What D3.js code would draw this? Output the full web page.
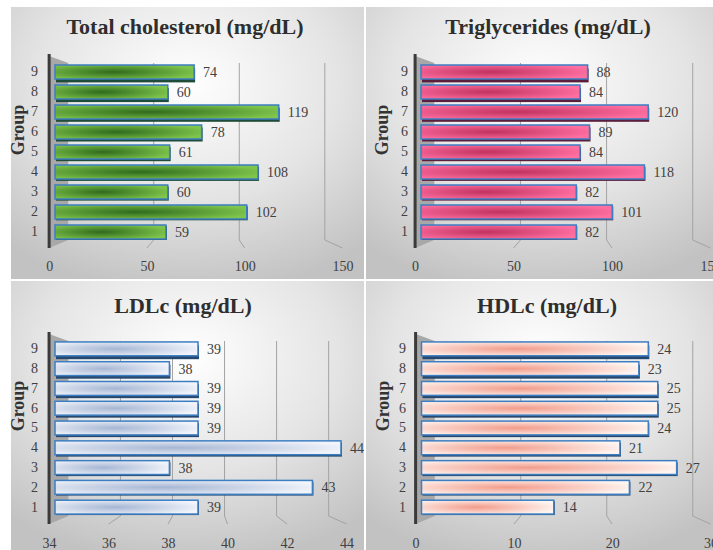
<!DOCTYPE html>
<html>
<head>
<meta charset="utf-8">
<script src="https://cdn.jsdelivr.net/npm/d3@7"></script>
<style>
  body { margin: 0; background: #fff; }
  svg { display: block; }
</style>
</head>
<body>
<div id="chart"></div>
<script>
// values
const groups = ["1", "2", "3", "4", "5", "6", "7", "8", "9"];
const totalChol = [59, 102, 60, 108, 61, 78, 119, 60, 74];
const triglycerides = [82, 101, 82, 118, 84, 89, 120, 84, 88];
const ldlc = [39, 43, 38, 44, 39, 39, 39, 38, 39];
const hdlc = [14, 22, 27, 21, 24, 25, 25, 23, 24];

const cholTicks = [0, 50, 100, 150];
const tgTicks = [0, 50, 100, 150];
const ldlTicks = [34, 36, 38, 40, 42, 44];
const hdlTicks = [0, 10, 20, 30];

const titles = ["Total cholesterol (mg/dL)", "Triglycerides (mg/dL)", "LDLc (mg/dL)", "HDLc (mg/dL)"];

const W = 713, H = 550;

// colours for each panel's bars
const themes = [
  { id: "green", center: "#2f6a1c", edge: "#7fc54c", under: "#1f4d3a" },
  { id: "pink", center: "#c2325f", edge: "#ff70a2", under: "#5a1f3c" },
  { id: "blue", center: "#a6b6d3", edge: "#f1f4fb", under: "#27486e" },
  { id: "salmon", center: "#f29c8b", edge: "#fff5f1", under: "#27486e" }
];

// layout of the four panels
const layout = [
  { px: 11, py: 7, pw: 353, ph: 272, x0: 55, x1: 337, top: 54, bottom: 248, bandTop: 59, bandBottom: 245, catX: 38, groupX: 18, groupY: 130, titleX: 185, titleY: 34, tickY: 272 },
  { px: 366, py: 7, pw: 347, ph: 272, x0: 421, x1: 705, top: 54, bottom: 248, bandTop: 59, bandBottom: 245, catX: 408, groupX: 382, groupY: 130, titleX: 548, titleY: 34, tickY: 272 },
  { px: 11, py: 281, pw: 353, ph: 269, x0: 55, x1: 341, top: 332, bottom: 524, bandTop: 336, bandBottom: 520, catX: 38, groupX: 18, groupY: 406, titleX: 183, titleY: 313, tickY: 549 },
  { px: 366, py: 281, pw: 347, ph: 269, x0: 421.5, x1: 705, top: 332, bottom: 524, bandTop: 336, bandBottom: 520, catX: 406, groupX: 383, groupY: 406, titleX: 547, titleY: 313, tickY: 549 }
];

const series = [totalChol, triglycerides, ldlc, hdlc];
const tickSets = [cholTicks, tgTicks, ldlTicks, hdlTicks];

const svg = d3.select("#chart").append("svg").attr("width", W).attr("height", H);
const defs = svg.append("defs");

let bg = defs.append("radialGradient").attr("id", "panelBg")
  .attr("cx", "50%").attr("cy", "28%").attr("r", "78%");
bg.append("stop").attr("offset", "0%").attr("stop-color", "#ffffff");
bg.append("stop").attr("offset", "55%").attr("stop-color", "#e4e4e4");
bg.append("stop").attr("offset", "100%").attr("stop-color", "#c2c2c2");

themes.forEach(function (t) {
  let g = defs.append("radialGradient").attr("id", "bar-" + t.id)
    .attr("cx", "42%").attr("cy", "50%").attr("r", "62%");
  g.append("stop").attr("offset", "0%").attr("stop-color", t.center);
  g.append("stop").attr("offset", "100%").attr("stop-color", t.edge);
});

const FONT = "'Liberation Serif', 'Times New Roman', serif";

series.forEach(function (values, i) {
  const L = layout[i], theme = themes[i], ticks = tickSets[i];
  const dom = [ticks[0], ticks[ticks.length - 1]];
  const panel = svg.append("g");

  panel.append("rect").attr("x", L.px).attr("y", L.py).attr("width", L.pw).attr("height", L.ph)
    .attr("fill", "url(#panelBg)");

  // bars scale (middle depth), front floor and back wall scales for the 3D look
  const x = d3.scaleLinear().domain(dom).range([L.x0, L.x1]);
  const c = L.x0 + (L.x1 - L.x0) * 0.52;
  const xFront = d3.scaleLinear().domain(dom).range([c + (L.x0 - c) * 1.04, c + (L.x1 - c) * 1.04]);
  const xBack = d3.scaleLinear().domain(dom).range([c + (L.x0 - c) * 0.91, c + (L.x1 - c) * 0.91]);
  const y = d3.scaleBand().domain(groups.slice().reverse()).range([L.bandTop, L.bandBottom]).padding(0.3);

  const backTop = L.top + 9, backBottom = L.bottom - 8;

  // left wall
  panel.append("polygon")
    .attr("points", [[xFront(dom[0]), L.top + 2], [xBack(dom[0]), backTop], [xBack(dom[0]), backBottom], [xFront(dom[0]), L.bottom]].join(" "))
    .attr("fill", "#a8a8a8");

  // gridlines on back wall, slanting onto the floor
  panel.selectAll(".grid").data(ticks.slice(1)).enter().append("polyline")
    .attr("points", function (d) { return [[xBack(d), backTop], [xBack(d), backBottom], [xFront(d), L.bottom]].join(" "); })
    .attr("fill", "none").attr("stroke", "#a3a3a3").attr("stroke-width", 1);

  // axis line
  panel.append("line").attr("x1", xFront(dom[0])).attr("x2", xFront(dom[0]))
    .attr("y1", L.top).attr("y2", L.bottom).attr("stroke", "#3a3a3a").attr("stroke-width", 3);

  const rows = groups.map(function (g, j) { return { group: g, value: values[j], idx: j }; });

  // underside of bars
  panel.selectAll(".under").data(rows).enter().append("rect")
    .attr("x", x(dom[0]) + 1)
    .attr("y", function (d) { return y(d.group) + 1 + d.idx * 0.3; })
    .attr("width", function (d) { return x(d.value) - x(dom[0]); })
    .attr("height", y.bandwidth())
    .attr("fill", theme.under);

  panel.selectAll(".bar").data(rows).enter().append("rect")
    .attr("x", x(dom[0]))
    .attr("y", function (d) { return y(d.group); })
    .attr("width", function (d) { return x(d.value) - x(dom[0]); })
    .attr("height", y.bandwidth())
    .attr("fill", "url(#bar-" + theme.id + ")")
    .attr("stroke", "#3d7ec2").attr("stroke-width", 1.5);

  // value labels
  panel.selectAll(".val").data(rows).enter().append("text")
    .attr("x", function (d) { return x(d.value) + 9; })
    .attr("y", function (d) { return y(d.group) + y.bandwidth() / 2; })
    .attr("dy", "0.36em")
    .attr("font-family", FONT).attr("font-size", 14).attr("fill", "#404040")
    .text(function (d) { return d.value; });

  // category axis
  const yAxis = panel.append("g").attr("transform", "translate(" + L.catX + ",0)")
    .call(d3.axisLeft(y).tickSize(0).tickPadding(0));
  yAxis.select(".domain").remove();
  yAxis.selectAll("text").attr("font-family", FONT).attr("font-size", 14).attr("fill", "#404040");

  // value axis labels
  const xAxis = panel.append("g").attr("transform", "translate(0," + (L.tickY - 14) + ")")
    .call(d3.axisBottom(xFront).tickValues(ticks).tickSize(0).tickPadding(3).tickFormat(d3.format("d")));
  xAxis.select(".domain").remove();
  xAxis.selectAll("text").attr("font-family", FONT).attr("font-size", 14).attr("fill", "#404040");

  panel.append("text")
    .attr("transform", "translate(" + (L.groupX + 6) + "," + L.groupY + ") rotate(-90)")
    .attr("text-anchor", "middle")
    .attr("font-family", FONT).attr("font-size", 18).attr("font-weight", "bold").attr("fill", "#333")
    .text("Group");

  panel.append("text")
    .attr("x", L.titleX).attr("y", L.titleY)
    .attr("text-anchor", "middle")
    .attr("font-family", FONT).attr("font-size", 22).attr("font-weight", "bold").attr("fill", "#2e2e2e")
    .text(titles[i]);
});
</script>
</body>
</html>
